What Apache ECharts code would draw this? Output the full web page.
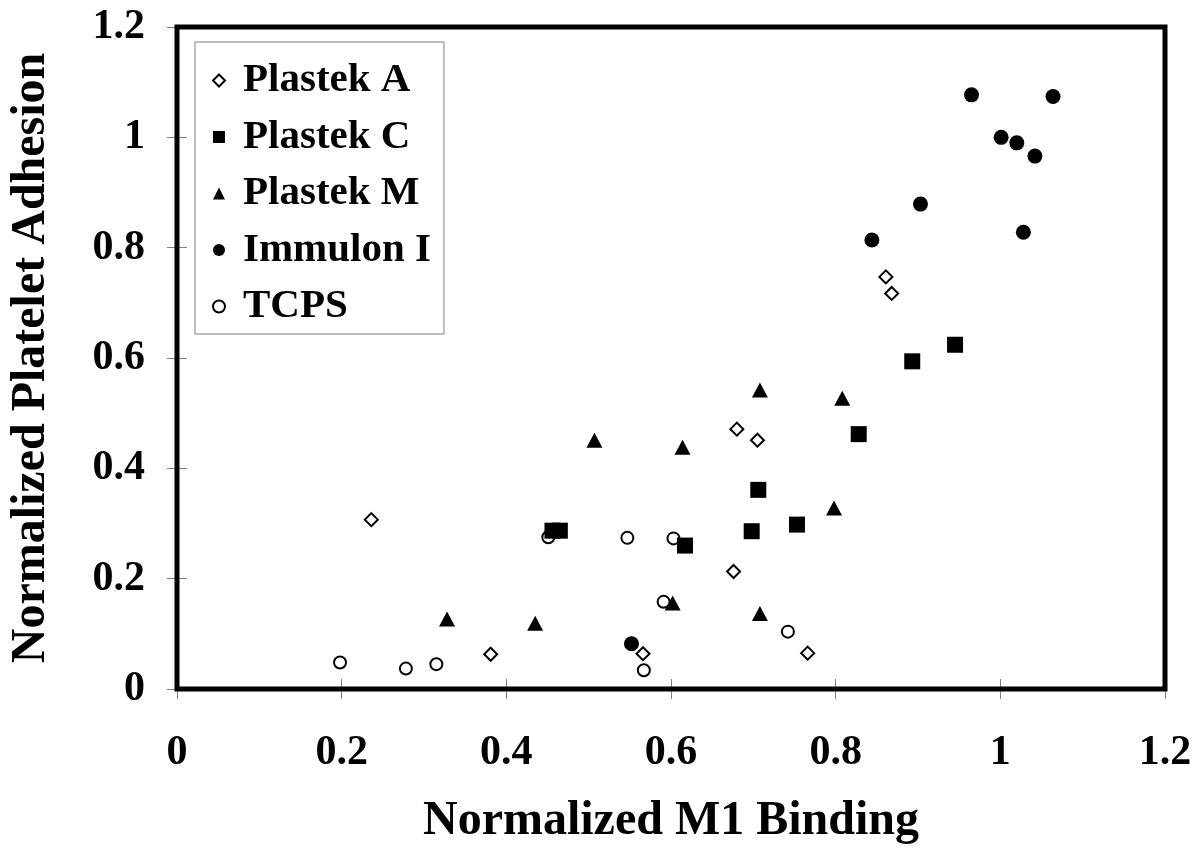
<!DOCTYPE html>
<html>
<head>
<meta charset="utf-8">
<script src="https://cdn.jsdelivr.net/npm/echarts@6/dist/echarts.min.js"></script>
<style>
  html, body { margin: 0; padding: 0; background: #fff; }
  #chart { width: 1198px; height: 851px; }
</style>
</head>
<body>
<div id="chart"></div>
<script>
// Normalized M1 binding (x) vs normalized platelet adhesion (y) per surface
const plastekA = [[0.236, 0.307], [0.381, 0.063], [0.566, 0.064], [0.676, 0.213], [0.680, 0.471],
                  [0.705, 0.451], [0.766, 0.065], [0.861, 0.747], [0.868, 0.717]];
const plastekC = [[0.456, 0.287], [0.465, 0.287], [0.617, 0.260], [0.698, 0.286], [0.706, 0.361],
                  [0.753, 0.298], [0.828, 0.462], [0.893, 0.594], [0.945, 0.624]];
const plastekM = [[0.328, 0.127], [0.435, 0.119], [0.507, 0.451], [0.602, 0.156], [0.614, 0.438],
                  [0.708, 0.137], [0.708, 0.542], [0.798, 0.328], [0.808, 0.527]];
const immulonI = [[0.552, 0.082], [0.844, 0.814], [0.903, 0.879], [0.965, 1.077], [1.001, 1.000],
                  [1.020, 0.990], [1.028, 0.828], [1.042, 0.966], [1.064, 1.074]];
const tcps     = [[0.198, 0.048], [0.278, 0.037], [0.315, 0.045], [0.451, 0.275], [0.547, 0.274],
                  [0.567, 0.034], [0.591, 0.158], [0.603, 0.273], [0.742, 0.104]];

const seriesNames = ['Plastek A', 'Plastek C', 'Plastek M', 'Immulon I', 'TCPS'];
const xTitle = 'Normalized M1 Binding';
const yTitle = 'Normalized Platelet Adhesion';

const FONT = "'Liberation Serif', 'Times New Roman', serif";

const openStyle = { color: '#fff', borderColor: '#000', borderWidth: 2, opacity: 1 };
const solidStyle = { color: '#000', borderWidth: 0, opacity: 1 };

function tickAxis(inside, showLabel, extra) {
  return Object.assign({
    type: 'value', min: 0, max: 1.2, interval: 0.2,
    axisLine: { show: false },
    splitLine: { show: false },
    axisTick: { show: true, inside: inside, length: 10, lineStyle: { color: '#7f7f7f', width: 1 } },
    axisLabel: { show: showLabel }
  }, extra);
}

const labelFmt = v => String(+v.toFixed(1));

const chart = echarts.init(document.getElementById('chart'), null, { renderer: 'canvas' });
chart.setOption({
  animation: false,
  backgroundColor: '#fff',
  textStyle: { fontFamily: FONT, fontWeight: 'bold', color: '#000' },
  grid: {
    left: 177, right: 33, top: 27, bottom: 162,
    outerBoundsMode: 'none', containLabel: false,
    show: true, borderColor: '#000', borderWidth: 5, backgroundColor: 'transparent', z: 3
  },
  xAxis: [
    tickAxis(false, true, {
      position: 'bottom',
      name: xTitle, nameLocation: 'middle', nameGap: 109,
      nameTextStyle: { fontFamily: FONT, fontWeight: 'bold', fontSize: 48, color: '#000' },
      axisLabel: { show: true, margin: 43, fontFamily: FONT, fontWeight: 'bold', fontSize: 42, color: '#000',
                   formatter: labelFmt }
    }),
    tickAxis(true, false, { position: 'bottom' })
  ],
  yAxis: [
    tickAxis(false, true, {
      position: 'left',
      name: yTitle, nameLocation: 'middle', nameGap: 121,
      nameTextStyle: { fontFamily: FONT, fontWeight: 'bold', fontSize: 48, color: '#000' },
      axisLabel: { show: true, margin: 32, fontFamily: FONT, fontWeight: 'bold', fontSize: 42, color: '#000',
                   formatter: labelFmt }
    }),
    tickAxis(true, false, { position: 'left' })
  ],
  legend: {
    orient: 'vertical',
    left: 195, top: 42,
    padding: [18, 13, 7, 17],
    backgroundColor: '#fff',
    borderColor: '#7f7f7f', borderWidth: 1, borderRadius: 0,
    itemWidth: 12, itemHeight: 12, itemGap: 15.5,
    textStyle: { fontFamily: FONT, fontWeight: 'bold', fontSize: 41, color: '#000', lineHeight: 40, padding: [0, 0, 0, 13] },
    data: [
      { name: seriesNames[0], icon: 'diamond', itemStyle: openStyle },
      { name: seriesNames[1], icon: 'rect', itemStyle: solidStyle },
      { name: seriesNames[2], icon: 'triangle', itemStyle: solidStyle },
      { name: seriesNames[3], icon: 'circle', itemStyle: solidStyle },
      { name: seriesNames[4], icon: 'circle', itemStyle: openStyle }
    ]
  },
  series: [
    { name: seriesNames[4], type: 'scatter', data: tcps, symbol: 'circle', symbolSize: 12, itemStyle: openStyle, z: 2 },
    { name: seriesNames[3], type: 'scatter', data: immulonI, symbol: 'circle', symbolSize: 15, itemStyle: solidStyle, z: 2 },
    { name: seriesNames[0], type: 'scatter', data: plastekA, symbol: 'diamond', symbolSize: 13, itemStyle: openStyle, z: 2 },
    { name: seriesNames[1], type: 'scatter', data: plastekC, symbol: 'rect', symbolSize: 16, itemStyle: solidStyle, z: 2 },
    { name: seriesNames[2], type: 'scatter', data: plastekM, symbol: 'triangle', symbolSize: [16, 15], itemStyle: solidStyle, z: 2 }
  ]
});
</script>
</body>
</html>
